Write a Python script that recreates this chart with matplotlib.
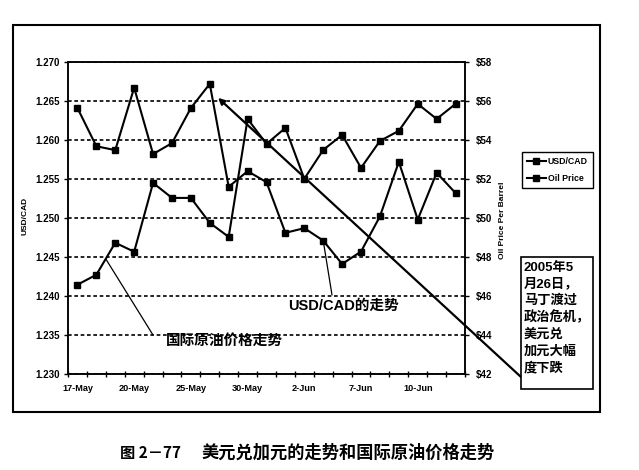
import numpy as np
import matplotlib
matplotlib.use("Agg")
import matplotlib.pyplot as plt
from matplotlib.patches import Rectangle

# ---- data ----
dates = ["17-May", "18-May", "19-May", "20-May", "23-May", "24-May", "25-May",
         "26-May", "27-May", "30-May", "31-May", "1-Jun", "2-Jun", "3-Jun",
         "6-Jun", "7-Jun", "8-Jun", "9-Jun", "10-Jun", "13-Jun", "14-Jun"]
usdcad = [1.2641, 1.2592, 1.2587, 1.2667, 1.2582, 1.2596, 1.2641, 1.2672,
          1.2540, 1.2560, 1.2546, 1.2481, 1.2487, 1.2471, 1.2441, 1.2457,
          1.2502, 1.2572, 1.2498, 1.2558, 1.2532]
oil = [46.58, 47.09, 48.73, 48.27, 51.80, 51.03, 51.03, 49.75, 49.03, 55.08,
       53.80, 54.62, 52.01, 53.49, 54.26, 52.57, 53.95, 54.47, 55.85, 55.08,
       55.85]
label_dates = ["17-May", "20-May", "25-May", "30-May", "2-Jun", "7-Jun", "10-Jun"]
left_ticks = [1.230, 1.235, 1.240, 1.245, 1.250, 1.255, 1.260, 1.265, 1.270]
right_ticks = [42, 44, 46, 48, 50, 52, 54, 56, 58]
series_names = ["USD/CAD", "Oil Price"]
box_lines = ["2005年5", "月26日，", "马丁渡过", "政治危机，", "美元兑", "加元大幅", "度下跌"]

W, H = 639, 470
LAT = ["Liberation Sans", "Noto Sans CJK SC", "DejaVu Sans"]
CJK = ["Noto Sans CJK SC", "DejaVu Sans"]

def fp(x, y):
    return (x / W, 1 - y / H)

fig = plt.figure(figsize=(W / 100, H / 100), dpi=100)
fig.patch.set_facecolor("white")

L, R, T, B = 68, 465, 62, 374
ax = fig.add_axes([L / W, 1 - B / H, (R - L) / W, (B - T) / H])
ax2 = ax.twinx()

x = np.arange(len(dates))
l1, = ax.plot(x, usdcad, color="black", lw=1.5, marker="s", ms=5, zorder=5)
l2, = ax2.plot(x, oil, color="black", lw=1.5, marker="s", ms=5, zorder=5)

ax.set_xlim(-0.5, len(dates) - 0.5)
ax.set_ylim(left_ticks[0], left_ticks[-1])
ax2.set_ylim(right_ticks[0], right_ticks[-1])

ax.set_yticks(left_ticks)
ax.set_yticklabels([f"{v:.3f}" for v in left_ticks])
ax2.set_yticks(right_ticks)
ax2.set_yticklabels([f"${v}" for v in right_ticks])

ax.set_xticks(np.arange(-0.5, len(dates), 1.0))
ax.set_xticklabels([])
ax.set_xticks([dates.index(d) for d in label_dates], minor=True)
ax.set_xticklabels(label_dates, minor=True)
ax.tick_params(axis="x", which="major", direction="inout", length=5, width=1, color="black")
ax.tick_params(axis="x", which="minor", length=0, pad=7)
ax.tick_params(axis="y", direction="out", length=3, width=1, pad=3)
ax2.tick_params(axis="y", direction="out", length=3, width=1, pad=5)

for lab in ax.get_xticklabels(minor=True):
    lab.set_fontfamily(LAT)
    lab.set_fontweight("bold")
    lab.set_fontsize(6.6)
for lab in ax.get_yticklabels() + ax2.get_yticklabels():
    lab.set_fontfamily(LAT)
    lab.set_fontweight("bold")
    lab.set_fontsize(7)

ax.yaxis.grid(True, color="black", linestyle=(0, (2.2, 1.6)), lw=1.2)
ax.set_axisbelow(True)
for a in (ax, ax2):
    for s in a.spines.values():
        s.set_color("black")
        s.set_linewidth(1.1)
ax.set_zorder(ax2.get_zorder() + 1)
ax.patch.set_visible(False)

# axis titles
fig.text(*fp(25, 216), "USD/CAD", rotation=90, ha="center", va="center",
         fontsize=6, fontweight="bold", family=LAT)
fig.text(*fp(503, 220), "Oil Price Per Barrel", rotation=90, ha="center", va="center",
         fontsize=6, fontweight="bold", family=LAT)

# legend
leg = fig.legend([l1, l2], series_names, loc="upper left",
                 bbox_to_anchor=fp(522, 152), frameon=True, fancybox=False,
                 edgecolor="black", framealpha=1,
                 prop=dict(family=LAT, weight="bold", size=6.3),
                 handlelength=2.2, borderpad=0.55, labelspacing=0.9,
                 handletextpad=0.2, borderaxespad=0, markerscale=0.8)
leg.get_frame().set_linewidth(1.0)

# pointer: oil
ax2.annotate("", xy=(1.5, 47.9), xycoords="data",
             xytext=(153, H - 335), textcoords="figure pixels",
             arrowprops=dict(arrowstyle="-", color="black", lw=0.9,
                             shrinkA=0, shrinkB=0))
fig.text(*fp(166, 340), "国际原油价格走势", ha="left", va="center",
         fontsize=10.5, fontweight="bold", family=CJK)

# pointer: usd/cad
ax.annotate("", xy=(13, usdcad[13]), xycoords="data",
            xytext=(332, H - 295), textcoords="figure pixels",
            arrowprops=dict(arrowstyle="-", color="black", lw=0.9,
                            shrinkA=0, shrinkB=0))
fig.text(*fp(288, 306), "USD/CAD的走势", ha="left", va="center",
         fontsize=10.5, fontweight="bold", family=LAT)

# trend arrow to box
ax.annotate("", xy=(7.44, 1.2654), xycoords="data",
            xytext=(521, H - 377), textcoords="figure pixels",
            annotation_clip=False,
            arrowprops=dict(arrowstyle="-|>", color="black", lw=1.6,
                            mutation_scale=9, shrinkA=0, shrinkB=0))

# box
bx0, by0, bx1, by1 = 521, 257, 593, 389
fig.patches.append(Rectangle(fp(bx0, by1), (bx1 - bx0) / W, (by1 - by0) / H,
                             transform=fig.transFigure, fill=True,
                             facecolor="white", edgecolor="black", lw=1.2,
                             zorder=3))
line_y = [268, 284, 300, 317, 335, 352, 368]
for s, yy in zip(box_lines, line_y):
    fig.text(*fp(524, yy), s, ha="left", va="center", fontsize=9.5,
             fontweight="bold", family=LAT, zorder=4)

# outer frame
fig.patches.append(Rectangle(fp(13, 412), (600 - 13) / W, (412 - 25) / H,
                             transform=fig.transFigure, fill=False,
                             edgecolor="black", lw=1.5, zorder=2))

# caption
fig.text(*fp(120, 453), "图 2－77", ha="left", va="center", fontsize=11,
         fontweight="bold", family=CJK)
fig.text(*fp(202, 453), "美元兑加元的走势和国际原油价格走势", ha="left", va="center",
         fontsize=12.4, fontweight="bold", family=CJK)

fig.savefig("out.png", dpi=100)
